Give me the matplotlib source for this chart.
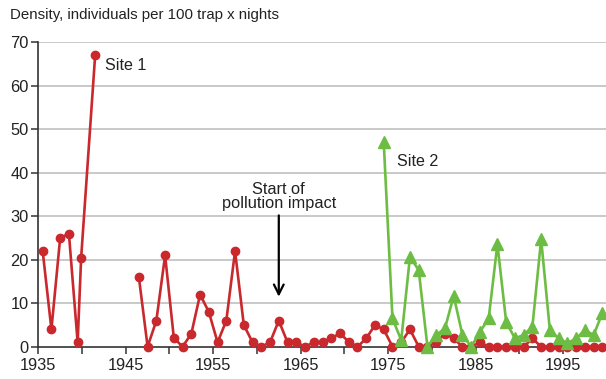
import numpy as np
import matplotlib
matplotlib.use("Agg")
import matplotlib.pyplot as plt

plt.rcParams['font.family'] = ['Liberation Sans', 'DejaVu Sans']

# site 1 trapping record, pre-war block and the post-war run
site1_early_years = [1935.5, 1936.5, 1937.5, 1938.5, 1939.5, 1939.9, 1941.5]
site1_early_vals = [22, 4, 25, 26, 1, 20.5, 67]

site1_years = np.arange(1946.5, 2000, 1.0)
site1_vals = [16, 0, 6, 21, 2, 0, 3, 12, 8, 1,
              6, 22, 5, 1, 0, 1, 6, 1, 1, 0,
              1, 1.1, 1.9, 3.1, 1.1, 0, 1.9, 5, 4, 0,
              1, 4, 0, 0, 1, 3, 1.9, 0, 0, 1,
              0, 0, 0, 0, 0, 1.9, 0, 0, 0, 0,
              0, 0, 0, 0]

# site 2 starts in 1974
site2_years = np.arange(1974.5, 2000, 1.0)
site2_vals = [47, 6.5, 1.5, 20.7, 17.6, 0, 2.7, 4.2, 11.7, 2.7,
              0, 3.4, 6.5, 23.6, 5.7, 1.9, 2.7, 4.6, 24.7, 3.8,
              1.9, 0.8, 1.9, 3.8, 2.7, 7.7]

x_ticks = np.arange(1935, 2000, 5)
x_labels = [str(y) if (y - 1935) % 10 == 0 else '' for y in x_ticks]
y_ticks = np.arange(0, 71, 10)

red = '#c9282d'
green = '#6dbd45'
dark = '#222222'

fig = plt.figure(figsize=(6.06, 3.79), dpi=100)
ax = fig.add_axes([0.0632, 0.0852, 0.938, 0.803])

for y in y_ticks[1:]:
    ax.axhline(y, color='#bababa', lw=1.1, zorder=0)

ax.plot(site1_early_years, site1_early_vals, color=red, lw=1.9,
        marker='o', ms=6, clip_on=False, zorder=3)
ax.plot(site1_years, site1_vals, color=red, lw=1.9,
        marker='o', ms=6, clip_on=False, zorder=3)
ax.plot(site2_years, site2_vals, color=green, lw=1.9,
        marker='^', ms=8.5, clip_on=False, zorder=4)

ax.set_xlim(1935, 2000)
ax.set_ylim(0, 70)
ax.set_xticks(x_ticks)
ax.set_xticklabels(x_labels)
ax.set_yticks(y_ticks)

for side in ['top', 'right']:
    ax.spines[side].set_visible(False)
for side in ['left', 'bottom']:
    ax.spines[side].set_color('#333333')
    ax.spines[side].set_linewidth(1.2)
    ax.spines[side].set_zorder(2)

ax.tick_params(axis='both', colors='#333333', labelcolor=dark,
               labelsize=11.8, width=1.1, length=5)
ax.tick_params(axis='y', pad=2)
ax.tick_params(axis='x', pad=3)

ax.text(1942.6, 64.6, 'Site 1', fontsize=11.6, color=dark, va='center', ha='left')
ax.text(1976.0, 42.7, 'Site 2', fontsize=11.6, color=dark, va='center', ha='left')
ax.text(1962.5, 34.5, 'Start of\npollution impact', fontsize=11.8, color=dark,
        ha='center', va='center', linespacing=0.9)
ax.annotate('', xy=(1962.5, 11.5), xytext=(1962.5, 30.2),
            arrowprops=dict(arrowstyle='->,head_length=0.7,head_width=0.35',
                            color='black', lw=1.6, shrinkA=0, shrinkB=0))

fig.text(10 / 606, 1 - 15 / 379, 'Density, individuals per 100 trap x nights',
         fontsize=10.8, color=dark, ha='left', va='center')

fig.savefig('out.png', dpi=100)
